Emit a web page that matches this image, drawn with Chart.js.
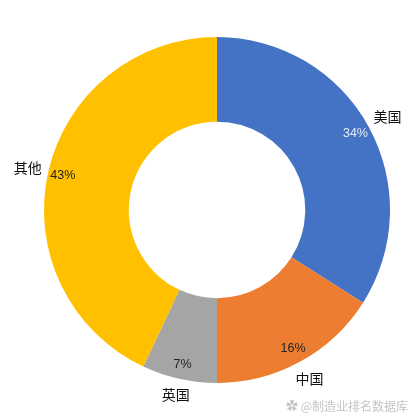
<!DOCTYPE html>
<html>
<head>
<meta charset="utf-8">
<script src="https://cdn.jsdelivr.net/npm/chart.js@4.4.1/dist/chart.umd.min.js"></script>
<style>
  html, body { margin: 0; padding: 0; background: #fff; }
  #wrap { position: relative; width: 416px; height: 419px; }
  #mark {
    position: absolute; right: 8px; bottom: 5px;
    font: 12px "Noto Sans CJK SC", sans-serif;
    color: #c4c4c4;
  }
</style>
</head>
<body>
<div id="wrap">
  <canvas id="chart" width="416" height="419"></canvas>
  <div id="mark">✿ @制造业排名数据库</div>
</div>
<script>
const countries = ["美国", "中国", "英国", "其他"];
const shares = [34, 16, 7, 43];
const sliceColors = ["#4472C4", "#ED7D31", "#A5A5A5", "#FFC000"];
const pctColors = ["#e8eef9", "#222222", "#222222", "#222222"];

// percent inside each slice, name outside it (box kept a small gap off the rim)
const sliceLabels = {
  id: "sliceLabels",
  afterDatasetsDraw(chart) {
    const ctx = chart.ctx;
    const meta = chart.getDatasetMeta(0);
    ctx.save();
    ctx.textAlign = "center";
    ctx.textBaseline = "middle";
    meta.data.forEach((arc, i) => {
      const p = arc.getProps(["x", "y", "startAngle", "endAngle", "outerRadius"], true);
      const mid = (p.startAngle + p.endAngle) / 2;
      const ux = Math.cos(mid);
      const uy = Math.sin(mid);
      const rIn = p.outerRadius - 15;
      ctx.font = "12.5px 'Liberation Sans', Arial, sans-serif";
      ctx.fillStyle = pctColors[i];
      ctx.fillText(shares[i] + "%", p.x + ux * rIn, p.y + uy * rIn);

      ctx.font = "14px 'Noto Sans CJK SC', sans-serif";
      const w = ctx.measureText(countries[i]).width;
      const h = 16;
      const rOut = p.outerRadius + 5.5 + (w / 2) * Math.abs(ux) + (h / 2) * Math.abs(uy);
      ctx.fillStyle = "#111";
      ctx.fillText(countries[i], p.x + ux * rOut, p.y + uy * rOut);
    });
    ctx.restore();
  }
};

new Chart(document.getElementById("chart"), {
  type: "doughnut",
  data: {
    labels: countries,
    datasets: [
      {
        data: shares,
        backgroundColor: sliceColors,
        borderWidth: 0,
      },
    ],
  },
  options: {
    responsive: false,
    animation: false,
    cutout: "51%",
    layout: {
      padding: { left: 44, right: 26, top: 37, bottom: 36 },
    },
    plugins: {
      legend: { display: false },
      tooltip: { enabled: false },
    },
  },
  plugins: [sliceLabels],
});
</script>
</body>
</html>
